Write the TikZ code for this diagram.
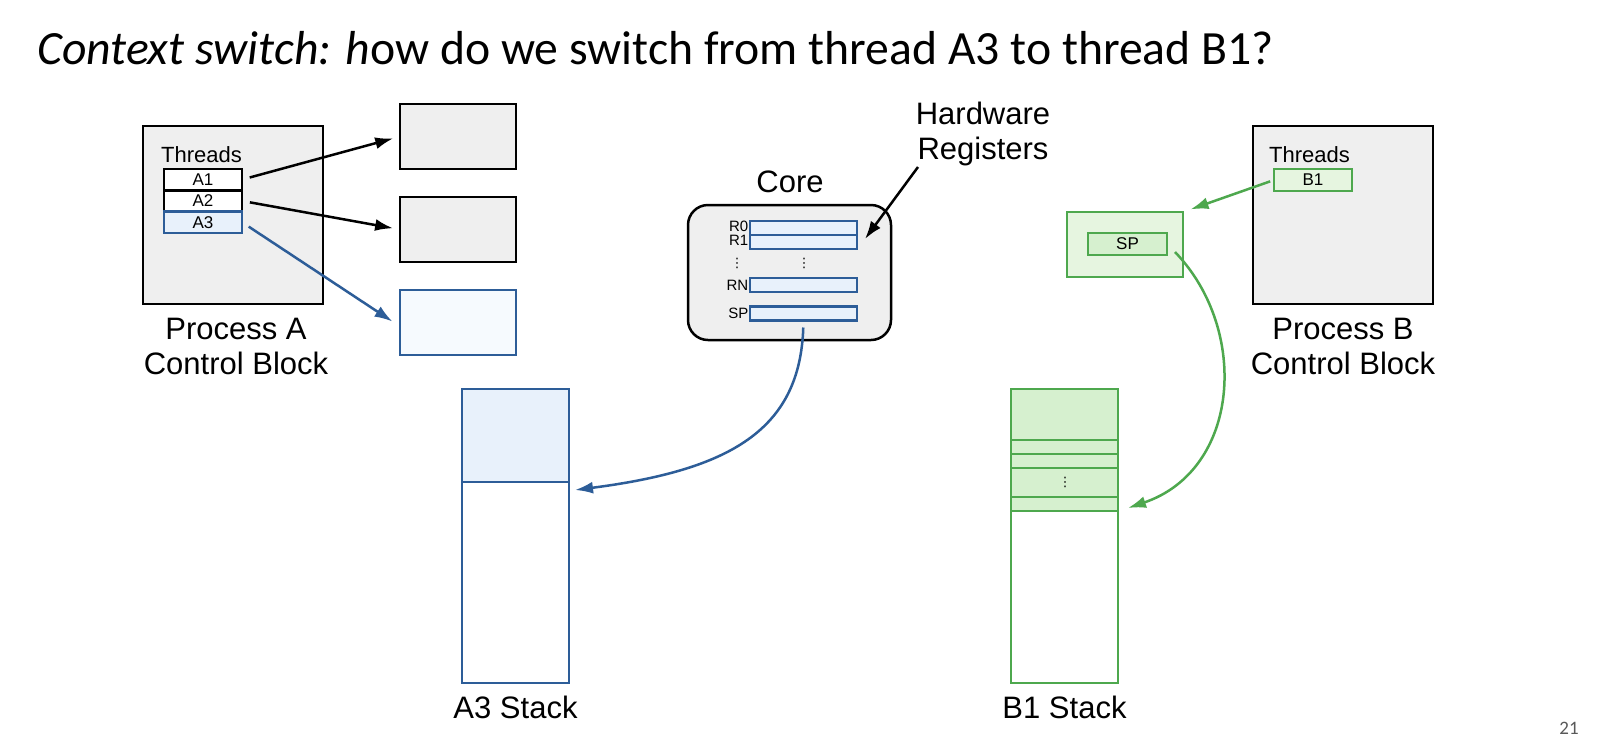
\documentclass[tikz,border=0pt]{standalone}
\usepackage{fontspec}
\setmainfont{Liberation Sans}
\newfontfamily\titlefont{Carlito}
\newfontfamily\dvfont{DejaVu Sans}
\usetikzlibrary{arrows.meta}
\definecolor{gfill}{HTML}{EFEFEF}
\definecolor{bline}{RGB}{45,93,152}
\definecolor{lblue}{HTML}{E8F1FB}
\definecolor{vlblue}{HTML}{F6FAFE}
\definecolor{gline}{RGB}{78,168,78}
\definecolor{lgreen}{HTML}{D6F0CF}
\definecolor{vlgreen}{HTML}{E6F5E0}
\definecolor{pnum}{HTML}{595959}
\begin{document}
\begin{tikzpicture}[x=1pt,y=-1pt,
  box/.style={draw=black, line width=2.5pt, fill=gfill, rectangle, inner sep=0pt, outer sep=0pt},
  wbox/.style={draw=black, line width=2.5pt, fill=white, rectangle, inner sep=0pt, outer sep=0pt, font=\fontsize{17}{17}\selectfont},
  bbox/.style={draw=bline, line width=2.5pt, fill=lblue, rectangle, inner sep=0pt, outer sep=0pt, font=\fontsize{17}{17}\selectfont},
  gbox/.style={draw=gline, line width=2.5pt, fill=lgreen, rectangle, inner sep=0pt, outer sep=0pt, font=\fontsize{17}{17}\selectfont},
  arr/.style={-{Latex[length=18pt,width=12pt]}, line width=2.5pt},
  lbl/.style={font=\fontsize{31}{35}\selectfont, align=center, inner sep=0pt},
  thr/.style={font=\fontsize{22}{22}\selectfont, anchor=base west, inner sep=0pt},
  reglbl/.style={font=\fontsize{15}{15}\selectfont, anchor=east, inner sep=0pt},
  dotsn/.style={font=\dvfont\fontsize{13}{13}\selectfont, inner sep=0pt}
]
\useasboundingbox[fill=white] (0,0) rectangle (1606,748);

% title
\node[anchor=base west, inner sep=0pt, font=\titlefont\fontsize{47.7}{54}\selectfont] (title) at (37,64)
  {\textit{Context switch: h}ow do we switch from thread A3 to thread B1?};

% Process A
\node[box, minimum width=180pt, minimum height=178pt] (pa) at (233,215) {};
\node[thr] (thra) at (161,162) {Threads};
\node[wbox, minimum width=78pt, minimum height=21.3pt] (a1) at (203,179.6) {A1};
\node[wbox, minimum width=78pt, minimum height=21.3pt] (a2) at (203,200.9) {A2};
\node[bbox, minimum width=78pt, minimum height=21.3pt] (a3) at (203,222.2) {A3};
\node[lbl] (pal) at (236,346) {Process A\\Control Block};

% thread boxes
\node[box, minimum width=116pt, minimum height=65pt] (t1) at (458,136.5) {};
\node[box, minimum width=116pt, minimum height=65pt] (t2) at (458,229.5) {};
\node[box, draw=bline, fill=vlblue, minimum width=116pt, minimum height=65pt] (t3) at (458,322.5) {};

\draw[arr, shorten <=8pt, shorten >=7pt] (a1.east) -- (t1.west);
\draw[arr, shorten <=8pt, shorten >=7pt] (a2.east) -- (t2.west);
\draw[arr, draw=bline, shorten <=8pt, shorten >=9pt] (a3.east) -- ([yshift=-4pt]t3.west);

% Core
\node[lbl] (corel) at (790,182) {Core};
\node[box, rounded corners=20pt, minimum width=203pt, minimum height=135pt] (core) at (789.5,272.5) {};
\node[bbox, minimum width=107pt, minimum height=14pt] (r0) at (803.5,228) {};
\node[bbox, minimum width=107pt, minimum height=14pt] (r1) at (803.5,242) {};
\node[bbox, minimum width=107pt, minimum height=14pt] (rn) at (803.5,285) {};
\node[bbox, minimum width=107pt, minimum height=14pt] (sp) at (803.5,313.5) {};
\node[reglbl] (r0l) at (748.5,226.5) {R0};
\node[reglbl] (r1l) at (748.5,240.5) {R1};
\node[reglbl] (rnl) at (748.5,285) {RN};
\node[reglbl] (spl) at (748.5,313.5) {SP};
\node[dotsn] (d1) at (737,263) {⋮};
\node[dotsn] (d2) at (804,263) {⋮};

\node[lbl] (hw) at (983,134) {Hardware\\Registers};
\coordinate (hwa) at (918,167);
\draw[arr] (hwa) -- ([xshift=8pt,yshift=-4pt]r0.south east);

% Process B
\node[box, minimum width=180pt, minimum height=178pt] (pb) at (1343,215) {};
\node[thr] (thrb) at (1269,162) {Threads};
\node[gbox, fill=vlgreen, minimum width=78pt, minimum height=22pt] (b1) at (1313,180) {B1};
\node[lbl] (pbl) at (1343,346) {Process B\\Control Block};

\node[gbox, fill=vlgreen, minimum width=116pt, minimum height=65pt] (gb) at (1125,244.5) {};
\node[gbox, minimum width=79pt, minimum height=22pt] (gsp) at (1127.5,244) {SP};
\draw[arr, draw=gline, shorten <=4pt, shorten >=8pt] (b1.west) -- (gb.north east);

% A3 stack
\node[bbox, minimum width=107pt, minimum height=93pt] (as1) at (515.5,435.5) {};
\node[bbox, fill=white, minimum width=107pt, minimum height=201pt] (as2) at (515.5,582.5) {};
\node[lbl] (asl) at (515.5,707) {A3 Stack};

% B1 stack
\node[gbox, minimum width=107pt, minimum height=51pt] (bs1) at (1064.5,414.5) {};
\node[gbox, minimum width=107pt, minimum height=14pt] (bs2) at (1064.5,447) {};
\node[gbox, minimum width=107pt, minimum height=14pt] (bs3) at (1064.5,461) {};
\node[gbox, minimum width=107pt, minimum height=29pt] (bs4) at (1064.5,482.5) {};
\node[gbox, minimum width=107pt, minimum height=14pt] (bs5) at (1064.5,504) {};
\node[gbox, fill=white, minimum width=107pt, minimum height=172pt] (bs6) at (1064.5,597) {};
\node[dotsn] (d3) at (1065,482) {⋮};
\node[lbl] (bsl) at (1064.5,707) {B1 Stack};

% curves
\draw[arr, draw=bline, shorten <=7pt] (sp.south) .. controls (800,430) and (730,470) .. ([xshift=6pt,yshift=-8pt]as1.south east);
\draw[arr, draw=gline] ([xshift=8pt,yshift=3pt]gsp.south east) .. controls (1250,330) and (1240,470) .. ([xshift=10pt,yshift=-4pt]bs5.east);

% page number
\node[inner sep=0pt, text=pnum, font=\titlefont\fontsize{19}{19}\selectfont] (pn) at (1569,728) {21};
\end{tikzpicture}
\end{document}
